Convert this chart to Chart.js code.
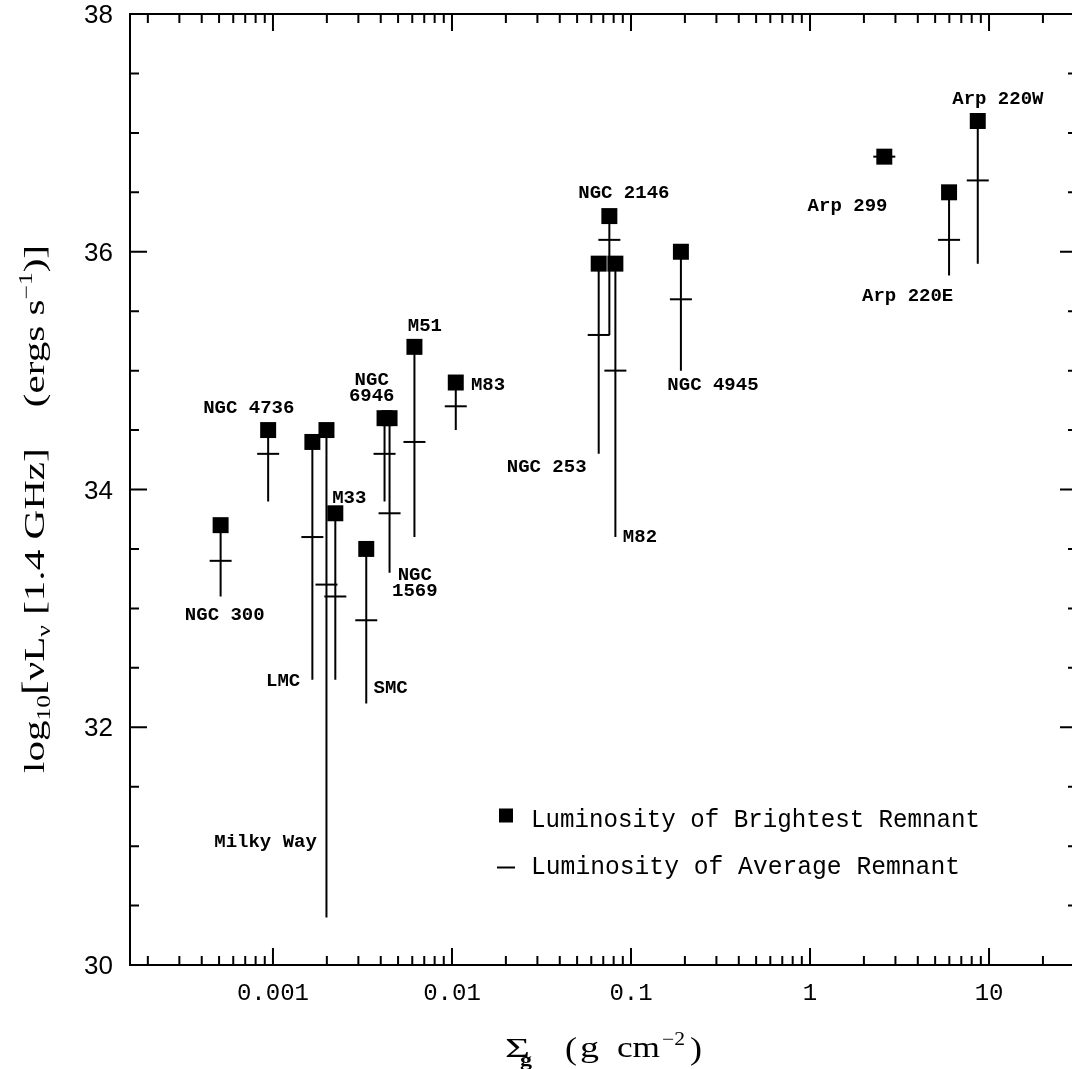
<!DOCTYPE html>
<html>
<head>
<meta charset="utf-8">
<script src="https://cdn.jsdelivr.net/npm/chart.js@4.4.0/dist/chart.umd.min.js"></script>
<style>
  html, body { margin: 0; padding: 0; overflow: hidden; background: #fff; }
  #chart { position: absolute; left: 0; top: 0; }
</style>
</head>
<body>
<canvas id="chart" width="1090" height="1069" style="width:1090px;height:1069px"></canvas>
<script>
// galaxies, in order of gas surface density
const galaxies = ['NGC 300', 'NGC 4736', 'LMC', 'Milky Way', 'M33', 'SMC', 'NGC 6946', 'NGC 1569',
  'M51', 'M83', 'NGC 253', 'NGC 2146', 'M82', 'NGC 4945', 'Arp 299', 'Arp 220E', 'Arp 220W'];
const sigmaGas = [0.00051, 0.00094, 0.00166, 0.00199, 0.00223, 0.00332, 0.0042, 0.00448,
  0.00617, 0.0105, 0.066, 0.0757, 0.0818, 0.19, 2.6, 5.98, 8.65];
const lumBrightest = [33.7, 34.5, 34.4, 34.5, 33.8, 33.5, 34.6, 34.6, 35.2, 34.9, 35.9, 36.3, 35.9, 36.0, 36.8, 36.5, 37.1];
const lumAverage = [33.4, 34.3, 33.6, 33.2, 33.1, 32.9, 34.3, 33.8, 34.4, 34.7, 35.3, 36.1, 35.0, 35.6, 36.8, 36.1, 36.6];
const lumFaintest = [33.1, 33.9, 32.4, 30.4, 32.4, 32.2, 33.9, 33.3, 33.6, 34.5, 34.3, 35.3, 33.6, 35.0, 36.8, 35.8, 35.9];

// where each galaxy's name is written (data coordinates, text centre)
const labelText = ['NGC 300', 'NGC 4736', 'LMC', 'Milky Way', 'M33', 'SMC', 'NGC\n6946', 'NGC\n1569',
  'M51', 'M83', 'NGC 253', 'NGC 2146', 'M82', 'NGC 4945', 'Arp 299', 'Arp 220E', 'Arp 220W'];
const labelSigma = [0.000538, 0.000733, 0.00114, 0.000909, 0.00267, 0.00454, 0.00356, 0.0062,
  0.00706, 0.0159, 0.0338, 0.0912, 0.1122, 0.287, 1.62, 3.51, 11.2];
const labelLum = [32.95, 34.69, 32.40, 31.04, 33.94, 32.34, 34.865, 33.22,
  35.38, 34.89, 34.20, 36.50, 33.61, 34.89, 36.39, 35.64, 37.29];

const xMajorTicks = [0.001, 0.01, 0.1, 1, 10];
const xTickLabels = ['0.001', '0.01', '0.1', '1', '10'];
const yMajorTicks = [30, 32, 34, 36, 38];

const xMin = 0.000159, xMax = 31;

// vertical bars: brightest down to faintest, null breaks the line
const barPoints = [];
sigmaGas.forEach((s, i) => {
  barPoints.push({ x: s, y: lumBrightest[i] });
  barPoints.push({ x: s, y: lumFaintest[i] });
  barPoints.push({ x: s, y: null });
});

const serif = s => s + 'px "Liberation Serif", serif';

// text squeezed or stretched sideways to a given width
function stretchText(ctx, text, x, y, font, width) {
  ctx.save();
  ctx.font = font;
  const w = ctx.measureText(text).width;
  ctx.translate(x, y);
  ctx.scale(width / w, 1);
  ctx.textAlign = 'left';
  ctx.fillText(text, 0, 0);
  ctx.restore();
}

const frame = {
  id: 'frame',
  afterDatasetsDraw(chart) {
    const { ctx, chartArea: a, scales: { x, y } } = chart;
    ctx.save();
    ctx.strokeStyle = '#000';
    ctx.lineWidth = 2;
    ctx.strokeRect(a.left, a.top, a.right - a.left, a.bottom - a.top);

    ctx.beginPath();
    // x ticks, bottom and top
    for (let e = -4; e <= 1; e++) {
      for (let m = 1; m <= 9; m++) {
        const v = m * Math.pow(10, e);
        if (v < xMin || v > xMax) continue;
        const px = x.getPixelForValue(v);
        const len = m === 1 ? 17 : 9;
        ctx.moveTo(px, a.bottom); ctx.lineTo(px, a.bottom - len);
        ctx.moveTo(px, a.top); ctx.lineTo(px, a.top + len);
      }
    }
    // y ticks, left and right
    for (let v = 30; v <= 38; v += 0.5) {
      const py = y.getPixelForValue(v);
      const len = yMajorTicks.includes(v) ? 17 : 9;
      ctx.moveTo(a.left, py); ctx.lineTo(a.left + len, py);
      ctx.moveTo(a.right, py); ctx.lineTo(a.right - len, py);
    }
    ctx.stroke();

    // tick labels
    ctx.fillStyle = '#000';
    ctx.font = '24px "Liberation Mono"';
    ctx.textAlign = 'center';
    ctx.textBaseline = 'alphabetic';
    xMajorTicks.forEach((v, i) => {
      ctx.fillText(xTickLabels[i], x.getPixelForValue(v), a.bottom + 35);
    });
    ctx.font = '26px "Liberation Sans"';
    ctx.textAlign = 'right';
    yMajorTicks.forEach(v => {
      ctx.fillText(String(v), 113, y.getPixelForValue(v) + 9);
    });

    // galaxy names
    ctx.font = 'bold 19px "Liberation Mono"';
    ctx.textAlign = 'center';
    labelText.forEach((t, i) => {
      const lines = t.split('\n');
      const cx = x.getPixelForValue(labelSigma[i]);
      const cy = y.getPixelForValue(labelLum[i]) - (lines.length - 1) * 8;
      lines.forEach((ln, k) => ctx.fillText(ln, cx, cy + k * 16 + 6));
    });

    // legend
    ctx.fillRect(499, 808.5, 14, 14);
    ctx.beginPath();
    ctx.moveTo(497, 867.5); ctx.lineTo(515, 867.5);
    ctx.stroke();
    ctx.textAlign = 'left';
    stretchText(ctx, 'Luminosity of Brightest Remnant', 531, 827, '25px "Liberation Mono"', 449);
    stretchText(ctx, 'Luminosity of Average Remnant', 531, 873.5, '25px "Liberation Mono"', 429);

    // x title
    stretchText(ctx, 'Σ', 505, 1057, serif(27), 25);
    stretchText(ctx, 'g', 520, 1066, 'bold ' + serif(18), 12);
    stretchText(ctx, '(', 565, 1059, serif(31), 12);
    stretchText(ctx, 'g', 580, 1057, serif(29), 19);
    stretchText(ctx, 'cm', 617, 1057, serif(29), 43);
    stretchText(ctx, '−2', 662, 1045, serif(18), 23);
    stretchText(ctx, ')', 690, 1059, serif(31), 12);

    // y title, rotated and stretched along its length
    const parts = [
      ['log', 29, 0], ['10', 18, 6], ['[', 31, 0], ['ν', 29, 0], ['L', 29, 0], ['ν', 18, 6],
      [' [1.4 GHz]', 29, 0], ['    (ergs s', 29, 0], ['−1', 18, -12], [')]', 29, 0]
    ];
    let total = 0;
    parts.forEach(p => { ctx.font = serif(p[1]); total += ctx.measureText(p[0]).width; });
    ctx.translate(44, 773);
    ctx.rotate(-Math.PI / 2);
    ctx.scale(528 / total, 1);
    let u = 0;
    parts.forEach(p => {
      ctx.font = serif(p[1]);
      ctx.fillText(p[0], u, p[2]);
      u += ctx.measureText(p[0]).width;
    });
    ctx.restore();
  }
};

new Chart(document.getElementById('chart'), {
  type: 'scatter',
  data: {
    datasets: [
      {
        label: 'range',
        data: barPoints,
        showLine: true,
        spanGaps: false,
        borderColor: '#000',
        borderWidth: 2,
        pointRadius: 0
      },
      {
        label: 'Luminosity of Average Remnant',
        data: sigmaGas.map((s, i) => ({ x: s, y: lumAverage[i] })),
        pointStyle: 'line',
        pointRadius: 11,
        pointBorderColor: '#000',
        pointBorderWidth: 2
      },
      {
        label: 'Luminosity of Brightest Remnant',
        data: sigmaGas.map((s, i) => ({ x: s, y: lumBrightest[i] })),
        pointStyle: 'rect',
        pointRadius: 11.3,
        pointBackgroundColor: '#000',
        pointBorderWidth: 0
      }
    ]
  },
  options: {
    responsive: false,
    animation: false,
    devicePixelRatio: 1,
    layout: { padding: { left: 130, right: 10, top: 14, bottom: 104 } },
    scales: {
      x: { type: 'logarithmic', min: xMin, max: xMax, display: false },
      y: { type: 'linear', min: 30, max: 38, display: false }
    },
    plugins: {
      legend: { display: false },
      tooltip: { enabled: false }
    }
  },
  plugins: [frame]
});
</script>
</body>
</html>
